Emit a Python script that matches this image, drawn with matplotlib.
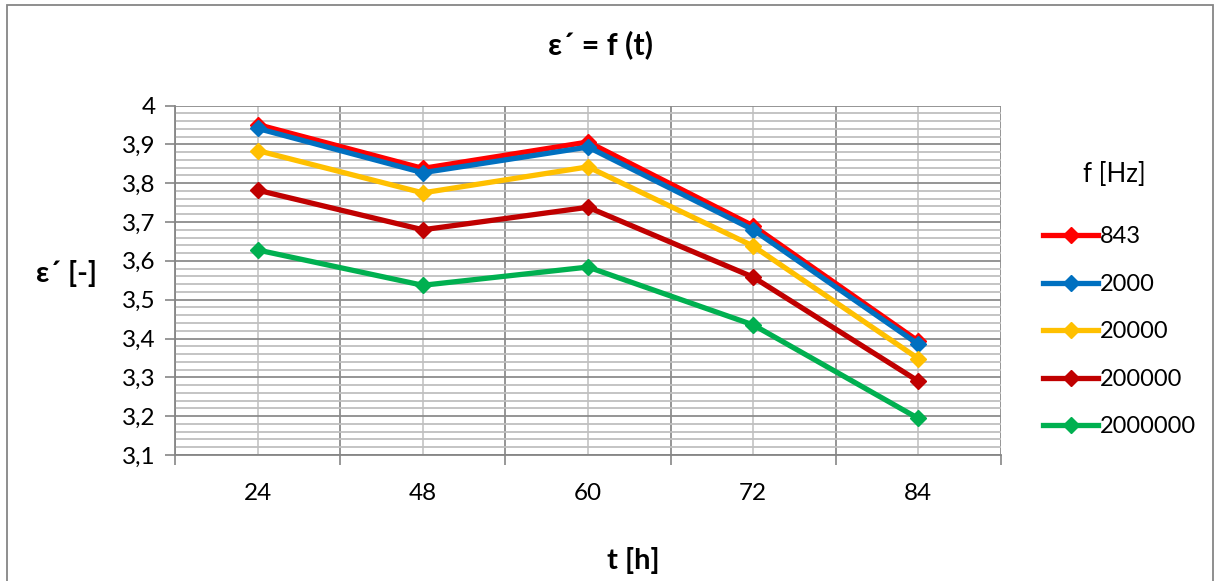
import matplotlib
matplotlib.use('Agg')
import matplotlib.pyplot as plt
import numpy as np
from matplotlib.patches import Rectangle

plt.rcParams['font.family'] = ['Lato', 'DejaVu Sans']

# data
t_labels = ['24', '48', '60', '72', '84']
freqs = ['843', '2000', '20000', '200000', '2000000']
eps_843 = [3.951, 3.838, 3.906, 3.690, 3.393]
eps_2000 = [3.941, 3.827, 3.893, 3.680, 3.385]
eps_20000 = [3.884, 3.775, 3.842, 3.638, 3.348]
eps_200000 = [3.782, 3.680, 3.738, 3.558, 3.290]
eps_2000000 = [3.628, 3.537, 3.584, 3.435, 3.194]

series = [eps_843, eps_2000, eps_20000, eps_200000, eps_2000000]
colors = ['#ff0000', '#0070c0', '#ffc000', '#c00000', '#00b050']

fig = plt.figure(figsize=(12.2, 5.81), dpi=100)
ax = fig.add_axes([175/1220, 1-455/581, (1001-175)/1220, (455-105.5)/581])

x = np.arange(len(t_labels))
for vals, c, lab in zip(series, colors, freqs):
	ax.plot(x, vals, color=c, linewidth=3.8, marker='D', markersize=8.5,
			markeredgecolor=c, label=lab, solid_joinstyle='miter', zorder=3)

ax.set_xlim(-0.5, len(t_labels)-0.5)
ax.set_ylim(3.1, 4.0)

# category axis: ticks at boundaries, labels at centers
ax.set_xticks(np.arange(-0.5, len(t_labels)))
ax.set_xticklabels([])
ax.set_xticks(x, minor=True)
ax.set_xticklabels(t_labels, minor=True)
ax.tick_params(axis='x', which='major', length=7, width=1.2, color='#868686', direction='out')
ax.tick_params(axis='x', which='minor', length=0, pad=20, labelsize=17.5)

yt = np.round(np.arange(3.1, 4.001, 0.1), 1)
ax.set_yticks(yt)
ax.set_yticklabels([('%g' % v).replace('.', ',') for v in yt])
ax.set_yticks(np.arange(3.1, 4.0, 0.02), minor=True)
ax.tick_params(axis='y', which='major', length=7, width=1.2, color='#868686', direction='out', labelsize=17.5, pad=7)
ax.tick_params(axis='y', which='minor', length=0)

ax.grid(True, axis='y', which='major', color='#8c8c8c', linewidth=1.3, zorder=0)
ax.grid(True, axis='y', which='minor', color='#bfbfbf', linewidth=1.3, zorder=0)
ax.grid(True, axis='x', which='major', color='#8c8c8c', linewidth=1.3, zorder=0)
ax.grid(True, axis='x', which='minor', color='#c8c8c8', linewidth=1.3, zorder=0)
ax.set_axisbelow(True)

for side in ['top', 'right']:
	ax.spines[side].set_visible(False)
for side in ['left', 'bottom']:
	ax.spines[side].set_color('#868686')
	ax.spines[side].set_linewidth(1.3)

fig.text(601/1220, 1-45/581, 'ε´ = f (t)', ha='center', va='center', fontsize=22, fontweight='bold')
fig.text(67/1220, 1-273/581, 'ε´ [-]', ha='center', va='center', fontsize=21, fontweight='bold')
fig.text(633/1220, 1-561/581, 't [h]', ha='center', va='center', fontsize=21, fontweight='bold')

leg = fig.legend(loc='upper left', bbox_to_anchor=(1034/1220, 1-217/581), frameon=False,
				 fontsize=17, handlelength=2.3, handletextpad=0.1, labelspacing=1.12,
				 borderaxespad=0)
fig.text(1114/1220, 1-175/581, 'f [Hz]', ha='center', va='center', fontsize=18.5)

# outer chart border
fig.patches.append(Rectangle((7/1220, -0.01), (1213-7)/1220, 1-5/581+0.01,
							 transform=fig.transFigure, fill=False, edgecolor='#868686', linewidth=1.3))

fig.savefig('out.png', dpi=100)
